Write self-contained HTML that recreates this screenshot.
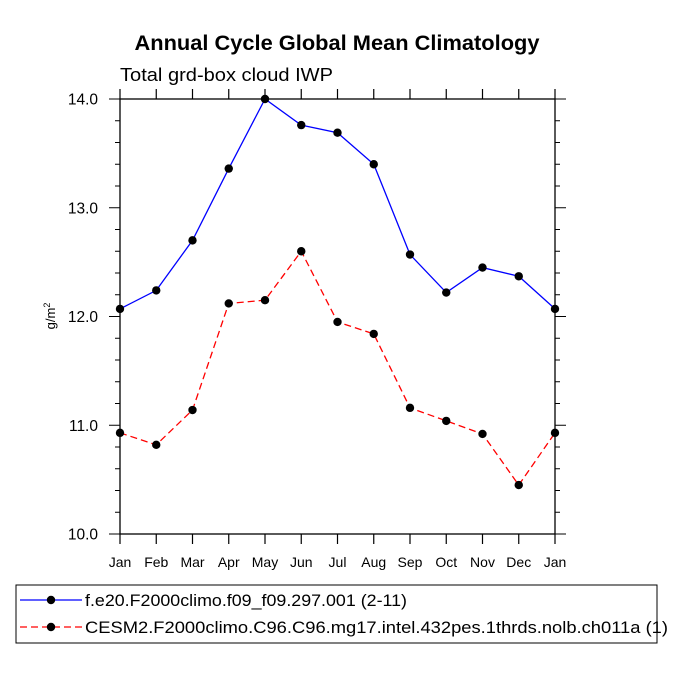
<!DOCTYPE html>
<html><head><meta charset="utf-8"><style>body{margin:0;background:#fff}svg{display:block}text{font-family:"Liberation Sans",sans-serif}</style></head>
<body>
<svg id="c" width="675" height="675" xmlns="http://www.w3.org/2000/svg"></svg>
<script>
const months=["Jan","Feb","Mar","Apr","May","Jun","Jul","Aug","Sep","Oct","Nov","Dec","Jan"];
const seriesA=[12.07,12.24,12.70,13.36,14.0,13.76,13.69,13.40,12.57,12.22,12.45,12.37,12.07];
const seriesB=[10.93,10.82,11.14,12.12,12.15,12.60,11.95,11.84,11.16,11.04,10.92,10.45,10.93];
const yTicks=[10,11,12,13,14];
const yTickLabels=["10.0","11.0","12.0","13.0","14.0"];
const L=120,R=555,T=99,B=534,ymin=10,ymax=14;
const sx=i=>L+(R-L)*i/(months.length-1);
const sy=v=>B-(v-ymin)/(ymax-ymin)*(B-T);
const svg=document.getElementById('c');
const NS="http://www.w3.org/2000/svg";
function mk(tag,at,txt){const e=document.createElementNS(NS,tag);for(const k in at)e.setAttribute(k,at[k]);if(txt!=null)e.textContent=txt;svg.appendChild(e);return e;}
let e;
e=mk('text',{x:337,y:50,'text-anchor':'middle','font-size':21,'font-weight':'bold',textLength:405,lengthAdjust:'spacingAndGlyphs'},'Annual Cycle Global Mean Climatology');

e=mk('text',{x:120,y:81,'font-size':18,textLength:213,lengthAdjust:'spacingAndGlyphs'},'Total grd-box cloud IWP');

e=mk('text',{x:0,y:0,'font-size':13,'text-anchor':'middle',transform:'translate(55,316) rotate(-90)'});
e.innerHTML='g/m<tspan dy="-5" font-size="9">2</tspan>';

for(let i=0;i<months.length;i++){const x=sx(i);
 e=mk('line',{x1:x,x2:x,y1:B,y2:B+10,stroke:'#000','stroke-width':1.2});
 e=mk('line',{x1:x,x2:x,y1:T,y2:T-10,stroke:'#000','stroke-width':1.2});
 e=mk('text',{x:x,y:B+33,'text-anchor':'middle','font-size':14},months[i]);}
for(let v=ymin;v<=ymax+1e-9;v+=0.2){const y=sy(v);const maj=Math.abs(v-Math.round(v))<1e-6;const len=maj?11:5;
 e=mk('line',{x1:L-len,x2:L,y1:y,y2:y,stroke:'#000','stroke-width':1});
 e=mk('line',{x1:R,x2:R+len,y1:y,y2:y,stroke:'#000','stroke-width':1});}
yTicks.forEach((v,i)=>{e=mk('text',{x:L-22,y:sy(v)+5.5,'text-anchor':'end','font-size':15.5},yTickLabels[i]);});
e=mk('rect',{x:L,y:T,width:R-L,height:B-T,fill:'none',stroke:'#000','stroke-width':1.3});
function series(d,color,dash,name){
 e=mk('polyline',{points:d.map((v,i)=>sx(i)+','+sy(v)).join(' '),fill:'none',stroke:color,'stroke-width':1.3,'stroke-dasharray':dash});
 
 d.forEach((v,i)=>{e=mk('circle',{cx:sx(i),cy:sy(v),r:4.2,fill:'#000'});});}
series(seriesA,'#0000ff','none','series-a');
series(seriesB,'#ff0000','7,4','series-b');
e=mk('rect',{x:16,y:585,width:641,height:58,fill:'none',stroke:'#000','stroke-width':1});
e=mk('line',{x1:20,x2:82,y1:600,y2:600,stroke:'#0000ff','stroke-width':1.3});
e=mk('circle',{cx:51,cy:600,r:4.2,fill:'#000'});
e=mk('text',{x:85,y:606,'font-size':17,textLength:322,lengthAdjust:'spacingAndGlyphs'},'f.e20.F2000climo.f09_f09.297.001 (2-11)');
e=mk('line',{x1:20,x2:82,y1:627,y2:627,stroke:'#ff0000','stroke-width':1.3,'stroke-dasharray':'7,4'});
e=mk('circle',{cx:51,cy:627,r:4.2,fill:'#000'});
e=mk('text',{x:85,y:633,'font-size':17,textLength:583,lengthAdjust:'spacingAndGlyphs'},'CESM2.F2000climo.C96.C96.mg17.intel.432pes.1thrds.nolb.ch011a (1)');
</script>
</body></html>
